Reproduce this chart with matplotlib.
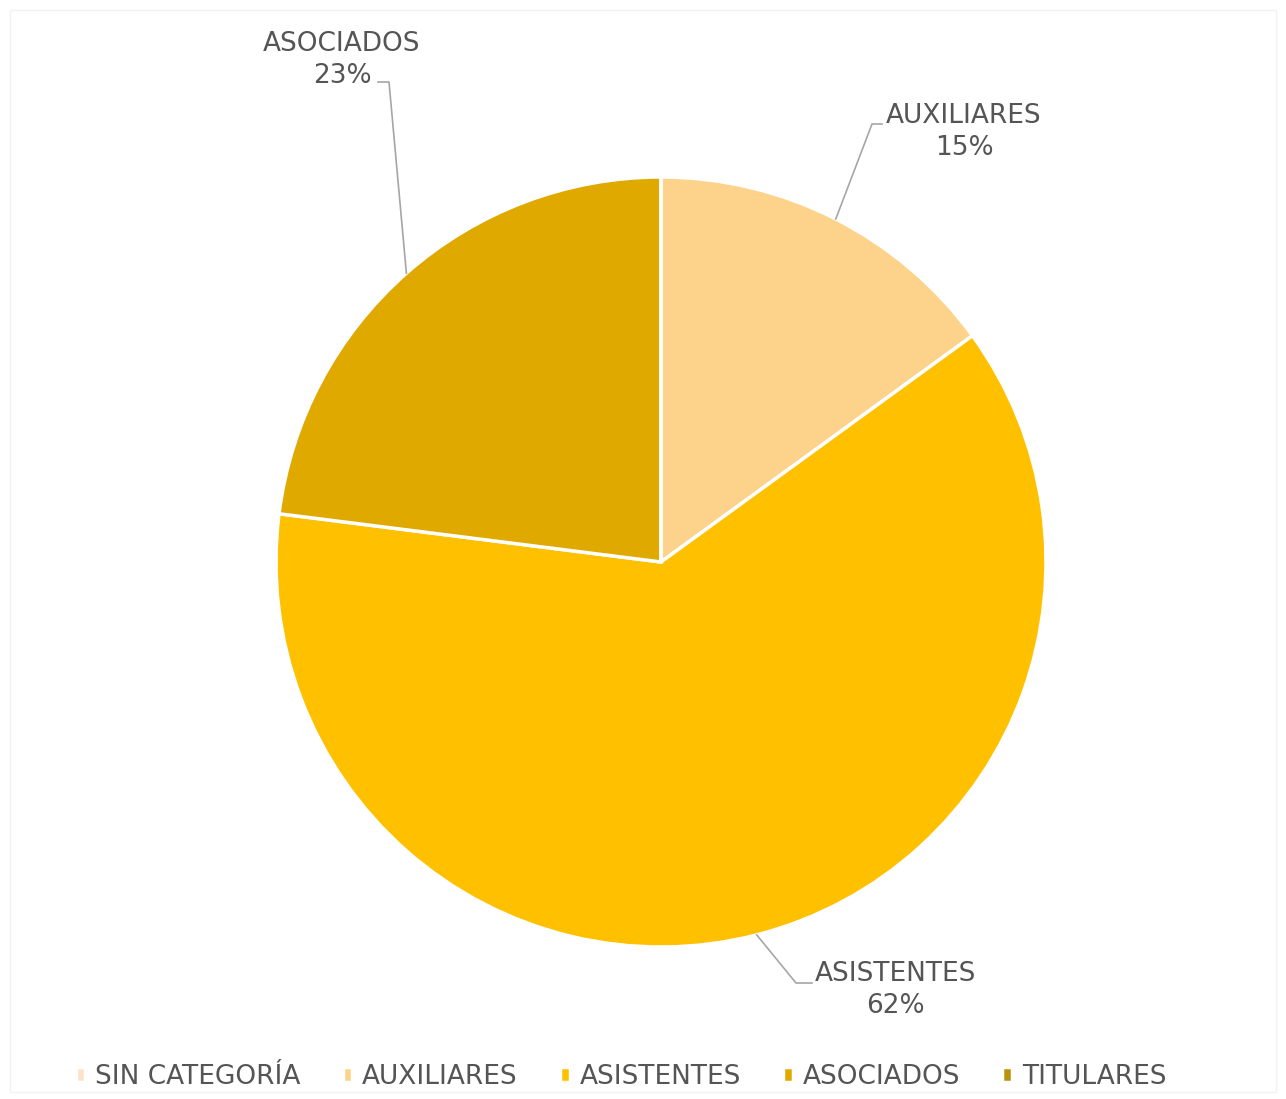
import numpy as np
import matplotlib.pyplot as plt
from matplotlib.patches import Rectangle

categorias = ["SIN CATEGORÍA", "AUXILIARES", "ASISTENTES", "ASOCIADOS", "TITULARES"]
porcentajes = [0, 15, 62, 23, 0]
colores = ["#FBE3C6", "#FDD38B", "#FFC000", "#E0A900", "#B8930B"]

# where each label block sits (pixels) and the elbow of its leader line
pos_texto = {"AUXILIARES": (964, 132), "ASISTENTES": (895, 990), "ASOCIADOS": (342, 60)}
codo = {"AUXILIARES": (872, 124), "ASISTENTES": (796, 983), "ASOCIADOS": (389, 82)}
fin_linea = {"AUXILIARES": (882, 124), "ASISTENTES": (812, 983), "ASOCIADOS": (378, 82)}

W, H = 1286, 1099
centro = (661, 562)
radio = 385
gris = "#555555"

plt.rcParams['font.family'] = ['DejaVu Sans']

fig = plt.figure(figsize=(W / 100, H / 100), dpi=100)
ax = fig.add_axes([0, 0, 1, 1])

def py(y):
    return H - y

wedges, _ = ax.pie(porcentajes, colors=colores, startangle=90, counterclock=False,
                   radius=radio, center=(centro[0], py(centro[1])),
                   wedgeprops=dict(edgecolor="white", linewidth=2.5), frame=True)
ax.axis("off")
ax.set_xlim(0, W)
ax.set_ylim(0, H)
ax.set_aspect("equal")

# faint frame around the chart area
ax.add_patch(Rectangle((10, py(1092)), W - 20, 1082, fill=False,
                       edgecolor="#f2f2f2", linewidth=1))

for w, nombre, p in zip(wedges, categorias, porcentajes):
    if p == 0:
        continue
    ang = np.deg2rad((w.theta1 + w.theta2) / 2)
    x0 = centro[0] + radio * np.cos(ang)
    y0 = py(centro[1]) + radio * np.sin(ang)
    cx, cy = codo[nombre]
    fx, fy = fin_linea[nombre]
    ax.plot([x0, cx, fx], [y0, py(cy), py(fy)], color="#a6a6a6", linewidth=1.2)
    tx, ty = pos_texto[nombre]
    ax.text(tx, py(ty), f"{nombre}\n{p}%", ha="center", va="center",
            fontsize=19, color=gris, linespacing=1.3)

fig.legend(wedges, categorias, loc="center", bbox_to_anchor=(621 / W, 1 - 1077 / H),
           ncol=5, frameon=False, fontsize=19, labelcolor=gris,
           handlelength=0.36, handleheight=0.5, handletextpad=0.38,
           columnspacing=1.6)

fig.savefig("out.png", dpi=100, facecolor="white")
